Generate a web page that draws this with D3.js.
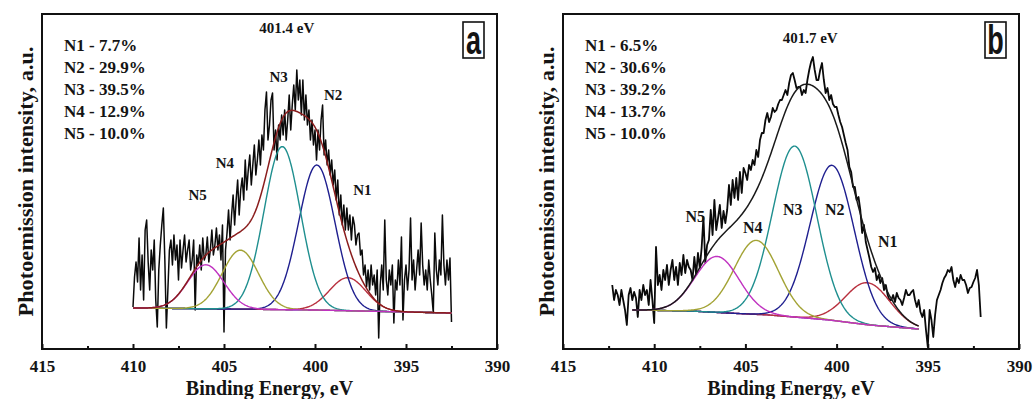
<!DOCTYPE html>
<html>
<head>
<meta charset="utf-8">
<script src="https://cdn.jsdelivr.net/npm/d3@7"></script>
<style>
  body { margin: 0; background: #fff; }
  svg text { font-family: "Liberation Serif", "Times New Roman", serif; font-weight: bold; fill: #141414; }
</style>
</head>
<body>
<script>
// N 1s spectra, two samples. Intensities in a.u..
const energyTicks = [415, 410, 405, 400, 395, 390];
const minorTicks = [412.5, 407.5, 402.5, 397.5, 392.5];
const peakNames = ['N1', 'N2', 'N3', 'N4', 'N5'];

// panel a
const rawStartA = 410, rawStepA = 1 / 12;
const rawA = [
  42, 72, 87, 67, 111, 59, 94, 49, 119, 129, 87, 59,
  99, 79, 109, 49, 22, 79, 104, 124, 141, 89, 21, 59,
  99, 109, 84, 114, 89, 104, 69, 109, 81, 99, 114, 87,
  99, 109, 79, 89, 109, 39, 94, 84, 104, 79, 111, 89,
  94, 112, 87, 99, 119, 94, 104, 121, 99, 114, 89, 124,
  17, 99, 116, 139, 109, 134, 154, 124, 149, 169, 134, 159,
  171, 149, 189, 159, 179, 194, 164, 184, 204, 174, 189, 209,
  184, 214, 199, 239, 257, 209, 224, 249, 256, 199, 219, 189,
  224, 209, 234, 214, 239, 209, 229, 254, 219, 244, 264, 239,
  279, 249, 269, 234, 269, 229, 254, 224, 239, 209, 229, 204,
  219, 189, 219, 199, 229, 244, 194, 209, 184, 199, 174, 189,
  164, 179, 149, 169, 134, 154, 124, 144, 119, 141, 119, 134,
  109, 132, 124, 104, 114, 116, 94, 99, 74, 84, 62, 79,
  59, 84, 64, 74, 54, 79, 11, 64, 84, 59, 129, 69,
  54, 79, 64, 84, 26, 69, 59, 89, 64, 112, 29, 69,
  84, 59, 79, 131, 69, 89, 59, 79, 99, 74, 126, 84,
  64, 79, 59, 89, 69, 54, 36, 116, 79, 64, 89, 74,
  134, 84, 64, 89, 69, 91, 27
];
const centersA = [398.2, 399.9, 401.8, 404.1, 406.0];
const heightsA = [33, 145, 163, 59, 44];
const fwhmA = 2.35;
const backgroundA = [[410, 41], [400, 39], [392.5, 36]];
const sharesA = ['7.7%', '29.9%', '39.5%', '12.9%', '10.0%'];
const labelsA = [[397.4, 154], [399.0, 249], [402.0, 267], [404.95, 181], [406.45, 149]];
const maxLabelA = ['401.4 eV', 401.55, 316];

// panel b
const rawStartB = 412.3, rawStepB = 0.1;
const rawB = [
  64, 49, 59,
  54, 44, 59, 49, 39, 24, 54, 61, 49, 57,
  51, 32, 59, 49, 64, 54, 59, 44, 69, 49,
  26, 102, 64, 74, 59, 79, 69, 84, 64, 79,
  89, 69, 82, 64, 86, 74, 94, 76, 89, 82,
  79, 69, 92, 74, 96, 81, 101, 132, 86, 104,
  109, 139, 114, 149, 119, 131, 144, 121, 138, 126,
  139, 164, 144, 169, 151, 171, 149, 177, 156, 181,
  176, 169, 184, 179, 189, 184, 199, 192, 209, 216,
  216, 229, 236, 227, 232, 241, 237, 239, 245, 249,
  249, 254, 259, 254, 266, 274, 276, 269, 261, 262,
  262, 254, 259, 256, 269, 279, 287, 292, 279, 269,
  269, 279, 286, 269, 256, 261, 249, 254, 245, 242,
  242, 234, 227, 222, 214, 206, 199, 182, 177, 162,
  162, 149, 152, 139, 116, 124, 107, 99, 91, 82,
  77, 81, 69, 74, 66, 71, 59, 64, 54, 49,
  49, 54, 47, 56, 51, 49, 44, 51, 59, 54,
  54, 57, 59, 49, 42, 49, 37, 32, 39, 19,
  2, 39, 29, 12, 34, 49, 54, 59, 66, 71,
  74, 79, 77, 82, 69, 62, 71, 66, 74, 69,
  69, 64, 56, 61, 62, 67, 71, 79, 64, 32
];
const centersB = [398.3, 400.25, 402.3, 404.4, 406.55];
const heightsB = [42, 155, 171, 74, 56];
const fwhmB = 2.85;
const backgroundB = [[411.2, 39], [408, 38], [406, 36], [403.7, 34], [400.4, 29], [398.2, 24], [395.5, 20]];
const sharesB = ['6.5%', '30.6%', '39.2%', '13.7%', '10.0%'];
const labelsB = [[397.2, 102], [400.1, 134], [402.4, 134], [404.6, 116], [407.75, 127]];
const maxLabelB = ['401.7 eV', 401.45, 306];

const peakColors = ['#b8303e', '#1f1f8f', '#1f8f8f', '#a3a335', '#c032c0'];

const W = 1033, H = 399;
const plotTop = 14, plotBottom = 349;

const svg = d3.select('body').append('svg')
  .attr('width', W)
  .attr('height', H);

function drawPanel(p) {
  const x = d3.scaleLinear().domain([415, 390]).range([p.left, p.right]);
  const y = d3.scaleLinear().domain([0, 335]).range([plotBottom, plotTop]);
  const g = svg.append('g');
  const line = d3.line().x(d => x(d[0])).y(d => y(d[1]));

  // measured spectrum
  const raw = p.raw.map((v, i) => [p.rawStart - i * p.rawStep, v]);
  g.append('path')
    .attr('d', line(raw))
    .attr('fill', 'none')
    .attr('stroke', '#0a0a0a')
    .attr('stroke-width', p.rawWidth)
    .attr('stroke-linejoin', 'round');

  // fitted peaks on top of the background
  const bg = d3.scaleLinear()
    .domain(p.background.map(d => d[0]))
    .range(p.background.map(d => d[1]));
  const fitFrom = p.background[0][0];
  const fitTo = p.background[p.background.length - 1][0];
  const grid = d3.range(fitFrom, fitTo - 1e-6, -0.04).concat([fitTo]);
  const sigma = p.fwhm / 2.3548;
  const peak = (k, e) => p.heights[k] * Math.exp(-((e - p.centers[k]) ** 2) / (2 * sigma * sigma));

  g.append('path')
    .attr('d', line(grid.map(e => [e, bg(e)])))
    .attr('fill', 'none')
    .attr('stroke', p.bgColor)
    .attr('stroke-width', 1.4);

  p.centers.forEach((c, k) => {
    g.append('path')
      .attr('d', line(grid.map(e => [e, bg(e) + peak(k, e)])))
      .attr('fill', 'none')
      .attr('stroke', peakColors[k])
      .attr('stroke-width', 1.4);
  });

  g.append('path')
    .attr('d', line(grid.map(e => [e, bg(e) + d3.sum(p.centers, (c, k) => peak(k, e))])))
    .attr('fill', 'none')
    .attr('stroke', p.envColor)
    .attr('stroke-width', 1.5);

  // axes
  g.append('g')
    .attr('transform', `translate(0,${plotBottom})`)
    .call(d3.axisBottom(x).tickValues(energyTicks).tickSize(-5).tickPadding(11).tickFormat(d3.format('d')))
    .call(a => a.select('.domain').remove())
    .call(a => a.selectAll('line').attr('stroke', '#111').attr('stroke-width', 2))
    .call(a => a.selectAll('text')
      .style('font-family', '"Liberation Serif", serif')
      .style('font-weight', 'bold')
      .style('font-size', '17px')
      .attr('fill', '#141414'));
  g.append('g')
    .attr('transform', `translate(0,${plotBottom})`)
    .call(d3.axisBottom(x).tickValues(minorTicks).tickSize(-3).tickFormat(''))
    .call(a => a.select('.domain').remove())
    .call(a => a.selectAll('line').attr('stroke', '#111').attr('stroke-width', 2));

  g.append('rect')
    .attr('x', p.left)
    .attr('y', plotTop)
    .attr('width', p.right - p.left)
    .attr('height', plotBottom - plotTop)
    .attr('fill', 'none')
    .attr('stroke', '#111')
    .attr('stroke-width', 2);

  // axis titles
  g.append('text')
    .attr('x', (p.left + p.right) / 2)
    .attr('y', 395)
    .attr('text-anchor', 'middle')
    .style('font-size', '20px')
    .text('Binding Energy, eV');
  g.append('text')
    .attr('transform', `translate(${p.left - 9},${(plotTop + plotBottom) / 2}) rotate(-90)`)
    .attr('text-anchor', 'middle')
    .attr('textLength', 270)
    .attr('lengthAdjust', 'spacingAndGlyphs')
    .style('font-size', '20px')
    .text('Photoemission intensity, a.u.');

  // shares legend
  g.selectAll('.share')
    .data(p.shares)
    .join('text')
    .attr('class', 'share')
    .attr('x', p.left + 22)
    .attr('y', (d, i) => 51 + i * 22)
    .style('font-size', '17px')
    .text((d, i) => `${peakNames[i]} - ${d}`);

  // peak names
  g.selectAll('.pname')
    .data(p.labels)
    .join('text')
    .attr('class', 'pname')
    .attr('x', d => x(d[0]))
    .attr('y', d => y(d[1]))
    .attr('text-anchor', 'middle')
    .style('font-size', p.nameSize)
    .text((d, i) => peakNames[i]);

  g.append('text')
    .attr('x', x(p.maxLabel[1]))
    .attr('y', y(p.maxLabel[2]))
    .attr('text-anchor', 'middle')
    .style('font-size', '15px')
    .text(p.maxLabel[0]);

  // panel letter
  const bx = p.right - 34, by = 22, bw = 21, bh = 36;
  g.append('rect')
    .attr('x', bx).attr('y', by).attr('width', bw).attr('height', bh)
    .attr('fill', '#fff').attr('stroke', '#111').attr('stroke-width', 1.6);
  g.append('text')
    .attr('transform', `translate(${bx + bw / 2},${by + bh - 4}) scale(1,1.5)`)
    .attr('text-anchor', 'middle')
    .style('font-family', '"Liberation Sans", Arial, sans-serif')
    .style('font-size', '27px')
    .text(p.letter);
}

drawPanel({
  left: 42, right: 497, letter: 'a',
  raw: rawA, rawStart: rawStartA, rawStep: rawStepA, rawWidth: 1.5,
  centers: centersA, heights: heightsA, fwhm: fwhmA, background: backgroundA,
  shares: sharesA, labels: labelsA, maxLabel: maxLabelA,
  bgColor: '#1f1f8f', envColor: '#8a1d1d', nameSize: '15px'
});
drawPanel({
  left: 563, right: 1019, letter: 'b',
  raw: rawB, rawStart: rawStartB, rawStep: rawStepB, rawWidth: 1.8,
  centers: centersB, heights: heightsB, fwhm: fwhmB, background: backgroundB,
  shares: sharesB, labels: labelsB, maxLabel: maxLabelB,
  bgColor: '#7a3aa8', envColor: '#1a1a1a', nameSize: '16px'
});
</script>
</body>
</html>
